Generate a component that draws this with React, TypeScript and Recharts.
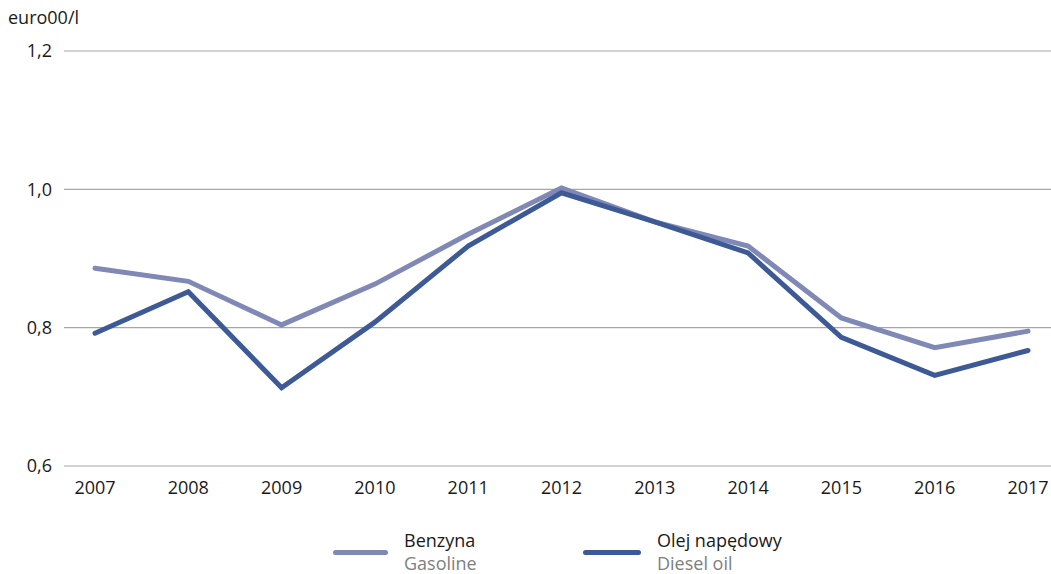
import { CartesianGrid, Legend, Line, LineChart, XAxis, YAxis } from 'recharts';

const years = ['2007', '2008', '2009', '2010', '2011', '2012', '2013', '2014', '2015', '2016', '2017'];
const gasoline = [0.886, 0.867, 0.804, 0.863, 0.935, 1.002, 0.953, 0.918, 0.814, 0.771, 0.795];
const diesel = [0.792, 0.852, 0.713, 0.808, 0.918, 0.995, 0.953, 0.908, 0.786, 0.731, 0.767];
const yTicks = [0.6, 0.8, 1.0, 1.2];

const seriesInfo = [
  { key: 'gasoline', pl: 'Benzyna', en: 'Gasoline', color: '#8088b5' },
  { key: 'diesel', pl: 'Olej napędowy', en: 'Diesel oil', color: '#3d5a96' },
];

const data = years.map((year, i) => ({ year, gasoline: gasoline[i], diesel: diesel[i] }));

const font = '"Open Sans", sans-serif';

const LegendBox = () => (
  <div style={{ position: 'relative', height: 50, fontFamily: font }}>
    {seriesInfo.map((s, i) => {
      const left = i === 0 ? 333 : 583;
      const width = i === 0 ? 55 : 58;
      return (
        <div key={s.key}>
          <div
            style={{
              position: 'absolute',
              left,
              top: 26,
              width,
              height: 5,
              borderRadius: 3,
              background: s.color,
            }}
          />
          <div style={{ position: 'absolute', left: left + width + 16, top: 5, lineHeight: '23px', fontSize: 18, textAlign: 'left' }}>
            <div style={{ color: '#1a1a1a' }}>{s.pl}</div>
            <div style={{ color: '#808080' }}>{s.en}</div>
          </div>
        </div>
      );
    })}
  </div>
);

const App = () => {
  return (
    <div style={{ position: 'absolute', left: 0, top: 0, width: 1051, height: 574, background: '#fff' }}>
      <div style={{ position: 'absolute', left: 8, top: 5, fontFamily: font, fontSize: 18, color: '#1a1a1a' }}>
        euro00/l
      </div>
      <LineChart
        width={1051}
        height={574}
        data={data}
        margin={{ top: 51, right: 0, left: 0, bottom: 0 }}
      >
        <CartesianGrid vertical={false} stroke='#a6a6a6' strokeWidth={1.2} />
        <XAxis
          dataKey='year'
          axisLine={false}
          tickLine={false}
          padding={{ left: 31, right: 23 }}
          height={58}
          tick={{ fill: '#1a1a1a', fontSize: 18, fontFamily: font, dy: 7 }}
          interval={0}
        />
        <YAxis
          domain={[0.6, 1.2]}
          ticks={yTicks}
          width={64}
          axisLine={false}
          tickLine={false}
          tickFormatter={(v) => v.toFixed(1).replace('.', ',')}
          tick={{ fill: '#1a1a1a', fontSize: 18, fontFamily: font, dx: -4 }}
        />
        <Legend
          verticalAlign='bottom'
          content={() => <LegendBox />}
          wrapperStyle={{ left: 0, bottom: 0, width: 1051 }}
        />
        {seriesInfo.map((s) => (
          <Line
            key={s.key}
            dataKey={s.key}
            stroke={s.color}
            strokeWidth={5}
            strokeLinecap='round'
            dot={false}
            activeDot={false}
            type='linear'
            isAnimationActive={false}
          />
        ))}
      </LineChart>
    </div>
  );
};

export default App;
